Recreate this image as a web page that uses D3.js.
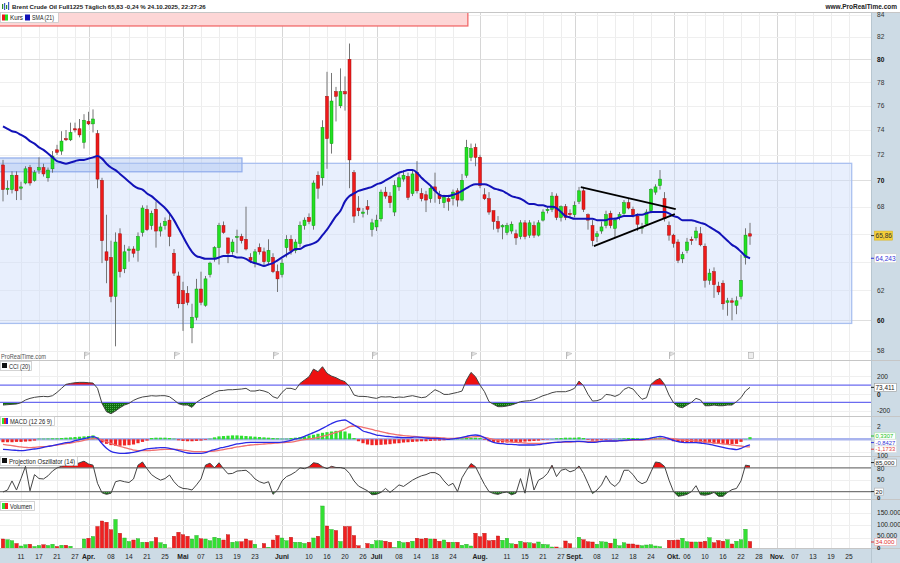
<!DOCTYPE html>
<html>
<head>
<meta charset="utf-8">
<script src="https://cdn.jsdelivr.net/npm/d3@7/dist/d3.min.js"></script>
<style>
html,body{margin:0;padding:0;background:#fff;}
svg{display:block;}
text{font-family:"Liberation Sans",Arial,Helvetica,sans-serif;}
</style>
</head>
<body>
<svg id="chart" width="900" height="563"></svg>
<script>
// ---------------- DATA ----------------
const holidays = ["2025-04-18"];
const opens = [71.2,69.3,69.3,70.4,69.4,69.8,71.0,70.0,70.8,71.0,
70.2,70.9,72.4,72.3,73.3,73.2,74.1,74.1,73.0,74.7,
74.5,73.7,70.0,64.7,64.3,61.6,66.0,63.5,64.8,64.9,
64.8,66.1,67.8,66.6,67.8,66.2,66.6,67.0,64.6,63.0,
62.0,61.8,59.5,60.2,62.1,61.0,63.1,64.3,65.0,66.6,
65.7,64.7,65.8,65.8,65.6,64.3,63.9,65.0,64.7,64.0,
64.3,63.3,63.1,65.0,65.6,64.8,65.3,66.6,67.2,66.6,
70.4,70.2,76.8,72.9,77.2,76.0,77.2,80.0,70.6,67.9,
67.5,68.0,66.3,66.5,67.1,69.1,68.8,67.6,69.5,70.1,
70.3,69.0,70.6,69.0,68.9,68.6,69.5,68.9,68.3,68.6,
68.6,69.2,68.5,70.4,71.8,72.6,71.8,68.9,68.6,67.7,
66.9,66.5,66.1,66.2,66.0,65.8,66.8,65.9,66.6,65.9,
67.0,67.7,67.8,68.8,67.2,68.0,67.5,67.4,68.4,69.2,
67.4,66.6,65.8,66.2,66.6,67.5,66.4,67.2,67.5,68.3,
67.8,67.3,66.4,66.7,67.7,69.1,69.6,68.6,66.6,65.9,
65.4,64.2,64.8,65.6,65.7,66.0,65.1,62.7,63.3,62.3,
62.5,61.2,61.3,61.0,61.6,64.3,66.0];
const highs = [71.6,70.0,70.7,70.7,69.9,71.1,71.2,70.8,71.8,71.3,
71.0,72.3,72.8,73.9,74.0,74.6,74.6,74.9,75.3,75.5,
75.7,74.0,70.2,67.4,65.5,66.1,66.4,65.2,65.1,65.1,
66.1,68.1,68.1,67.7,68.4,66.8,67.2,67.6,64.9,63.3,
62.6,62.3,61.1,62.8,63.3,63.0,64.0,65.1,66.8,66.9,
65.7,65.6,66.3,66.0,68.0,64.6,64.9,65.3,65.0,65.6,
64.6,63.8,64.2,65.9,65.9,65.6,66.9,67.2,67.5,70.0,
70.7,74.8,78.9,78.8,77.6,79.2,78.5,81.4,70.8,68.8,
67.9,68.5,67.1,67.4,69.3,69.5,69.1,70.0,70.6,70.8,
70.6,70.8,71.5,69.4,69.2,69.6,70.6,69.2,68.9,68.9,
69.3,69.4,70.5,73.2,72.9,72.9,72.0,69.4,69.1,67.7,
67.3,66.7,66.8,66.9,66.3,67.0,67.0,67.0,66.9,67.0,
67.8,68.0,69.1,69.0,68.1,68.2,67.8,68.4,69.5,69.5,
67.5,67.0,66.2,66.9,67.7,67.7,67.2,67.6,68.5,68.6,
68.0,67.5,66.8,67.8,69.4,69.7,70.8,69.1,66.9,66.0,
65.6,64.7,65.7,65.8,66.5,66.5,65.3,63.5,63.6,62.6,
62.7,61.5,61.5,61.6,64.5,66.4,66.8];
const lows = [68.4,68.9,69.0,68.5,68.5,69.7,69.6,69.9,70.5,70.3,
69.9,70.6,72.0,72.0,73.1,73.1,73.8,73.4,72.5,74.4,
73.8,69.4,63.9,62.5,61.2,58.3,62.9,63.2,64.0,64.3,
64.0,65.8,66.2,66.3,65.0,65.8,66.3,65.1,63.0,60.8,
59.3,61.0,58.5,60.0,61.0,60.9,62.9,64.0,63.8,66.0,
63.9,64.5,64.6,65.3,64.8,63.9,63.6,64.5,63.7,63.8,
63.2,61.9,62.9,64.3,64.5,64.6,65.0,66.3,66.7,66.3,
68.6,69.6,70.9,72.1,74.7,75.8,75.6,69.4,66.8,67.3,
67.2,67.4,65.8,66.2,66.9,68.6,67.9,67.3,69.2,69.9,
68.5,68.8,69.0,68.4,67.6,68.3,68.3,68.2,67.9,67.7,
68.1,68.0,68.4,70.2,71.5,71.1,69.4,68.5,67.4,66.3,
66.1,65.6,65.9,66.0,65.2,65.6,65.6,65.7,65.7,65.8,
66.9,67.5,67.6,67.0,66.9,67.0,67.2,67.2,68.2,67.6,
66.3,65.1,65.4,66.0,66.4,66.4,65.7,67.0,67.4,67.8,
67.2,66.2,66.0,66.6,67.5,68.9,69.3,66.9,65.5,65.0,
63.9,63.9,64.6,65.2,65.5,65.1,62.2,62.4,61.5,61.7,
60.7,60.3,60.0,60.4,61.4,63.8,65.2];
const closes = [69.3,69.4,70.4,69.2,69.5,70.9,69.8,70.6,71.0,70.5,
70.8,71.9,72.2,73.1,73.2,73.8,74.0,73.6,74.8,74.5,
74.9,70.1,65.5,64.1,61.6,65.4,63.3,64.7,64.9,64.6,
65.8,67.9,66.3,67.5,66.2,66.5,66.9,65.8,63.2,61.1,
61.1,61.2,60.2,62.1,61.2,62.8,63.9,65.0,66.6,66.1,
64.6,65.4,65.8,65.5,64.9,64.1,64.7,64.7,64.0,64.8,
63.3,62.8,63.9,65.6,64.8,65.4,66.6,67.0,66.9,69.8,
69.4,74.2,73.3,76.4,76.8,77.2,77.0,71.6,67.3,67.7,
67.6,67.8,66.8,67.0,69.1,68.8,68.3,69.6,70.2,70.4,
68.7,70.5,69.2,68.6,68.5,69.4,69.2,68.6,68.7,68.4,
69.1,68.5,70.0,72.6,72.5,71.8,69.6,68.6,67.6,66.9,
66.4,66.6,66.6,66.7,65.7,66.8,65.8,66.8,65.9,66.8,
67.6,67.8,68.8,67.2,68.0,67.2,67.4,68.1,69.2,67.8,
67.0,65.5,66.0,66.5,67.4,66.6,67.0,67.4,68.3,67.9,
67.4,66.7,66.5,67.6,69.3,69.5,70.1,67.1,65.9,65.3,
64.1,64.5,65.4,65.5,66.2,65.2,62.7,63.2,62.4,61.9,
61.1,61.3,61.2,61.3,62.7,65.9,65.83];
// volume in thousands of contracts
const volumes = [44,41,37,26,16,21,23,14,18,21,
18,23,14,19,19,15,5,3,44,47,
54,94,116,111,81,122,67,48,34,40,
45,31,31,34,50,29,23,8,55,71,
61,55,44,58,45,44,37,51,47,40,
61,31,33,33,44,37,23,3,26,11,
40,58,48,37,51,31,31,26,31,48,
55,176,96,82,78,34,94,94,58,17,
4,26,23,37,37,35,31,10,35,29,
31,35,47,44,47,44,44,35,40,31,
31,31,19,23,16,67,53,67,37,39,
56,39,47,25,23,35,29,29,25,32,
23,21,12,12,8,36,25,8,51,41,
33,32,23,33,32,27,44,17,29,24,
24,20,17,20,21,16,13,4,39,39,
40,47,33,32,32,32,35,49,29,38,
35,41,24,35,41,83,34];
const sma21 = [74.3,74.1,73.9,73.8,73.6,73.4,73.1,72.9,72.6,72.4,
72.1,71.8,71.5,71.4,71.3,71.4,71.5,71.6,71.6,71.7,
71.8,71.9,71.7,71.3,71.0,70.8,70.5,70.2,69.9,69.6,
69.4,69.3,69.0,68.8,68.5,68.2,67.9,67.5,67.0,66.4,
65.8,65.2,64.7,64.4,64.3,64.2,64.2,64.2,64.3,64.4,
64.4,64.4,64.3,64.3,64.2,64.0,63.9,63.8,63.7,63.8,
63.9,64.1,64.3,64.5,64.7,64.9,64.9,65.1,65.2,65.3,
65.5,65.9,66.3,66.8,67.3,67.7,68.4,68.8,69.0,69.2,
69.3,69.4,69.5,69.7,69.8,70.0,70.2,70.4,70.6,70.7,
70.8,70.8,70.6,70.2,69.9,69.6,69.2,68.9,68.8,68.8,
68.9,69.0,69.2,69.4,69.6,69.7,69.7,69.7,69.6,69.4,
69.3,69.2,69.0,68.8,68.7,68.6,68.4,68.2,68.2,68.1,
68.1,68.0,68.0,67.9,67.6,67.3,67.2,67.1,67.1,67.1,
67.1,67.1,67.0,67.0,67.0,67.1,67.1,67.2,67.3,67.3,
67.3,67.4,67.4,67.5,67.6,67.6,67.6,67.6,67.5,67.3,
67.2,67.0,67.0,67.0,66.9,66.8,66.7,66.5,66.3,66.1,
65.8,65.5,65.2,65.0,64.7,64.4,64.243];
const cci20 = [-131,-127,-123,-119,-104,-73,-54,-42,-35,-31,
-35,-23,15,62,108,119,127,131,131,127,
123,62,-112,-208,-231,-200,-162,-131,-112,-77,
-54,-38,-31,-23,-27,-23,-23,-35,-73,-115,
-131,-131,-158,-100,-65,-38,-15,15,35,38,
46,46,50,54,62,31,31,42,31,12,
-35,-54,15,62,62,46,119,158,196,285,
254,312,235,204,185,158,139,81,-15,-31,
-31,-35,-46,-54,-35,-38,-35,-46,-38,-42,
-31,-23,-35,-46,-38,4,46,23,-8,-8,
4,15,31,158,246,196,100,23,-92,-123,
-150,-150,-142,-131,-112,-92,-85,-81,-69,-46,
-23,-8,12,23,23,23,38,62,146,92,
-8,-85,-81,-62,-8,-15,-31,-8,50,73,
54,-8,-65,-46,108,154,177,108,-15,-104,
-150,-162,-131,-100,-54,-73,-139,-139,-131,-139,
-139,-131,-131,-92,-46,31,73.411];
const macdLine = [-1.54,-1.59,-1.65,-1.70,-1.75,-1.70,-1.59,-1.49,-1.39,-1.24,
-1.08,-0.98,-0.83,-0.67,-0.52,-0.42,-0.21,-0.06,0.10,0.25,
0.41,0.15,-0.67,-1.39,-1.85,-2.06,-2.16,-2.16,-2.11,-2.01,
-1.85,-1.65,-1.49,-1.39,-1.34,-1.29,-1.29,-1.39,-1.54,-1.75,
-1.95,-2.11,-2.16,-2.16,-2.16,-2.06,-1.80,-1.59,-1.39,-1.24,
-1.08,-0.88,-0.72,-0.62,-0.52,-0.47,-0.47,-0.47,-0.47,-0.47,
-0.47,-0.47,-0.42,-0.31,-0.16,0.05,0.20,0.46,0.76,1.02,
1.33,1.69,2.05,2.41,2.71,2.87,2.97,2.61,2.20,1.79,
1.28,1.07,0.87,0.66,0.56,0.46,0.41,0.35,0.30,0.25,
0.25,0.30,0.35,0.30,0.20,0.15,0.15,0.10,0.05,0.00,
0.05,0.15,0.30,0.46,0.61,0.66,0.56,0.25,-0.16,-0.47,
-0.62,-0.67,-0.77,-0.77,-0.83,-0.88,-0.88,-0.88,-0.88,-0.83,
-0.72,-0.62,-0.52,-0.47,-0.42,-0.36,-0.36,-0.36,-0.31,-0.36,
-0.47,-0.47,-0.42,-0.31,-0.26,-0.26,-0.26,-0.21,-0.16,-0.11,
-0.06,-0.06,-0.06,0.05,0.20,0.35,0.46,0.35,0.10,-0.16,
-0.36,-0.47,-0.52,-0.52,-0.52,-0.57,-0.67,-0.77,-0.93,-1.08,
-1.24,-1.39,-1.49,-1.59,-1.39,-1.08,-0.8427];
const macdSignal = [-0.77,-0.88,-0.98,-1.08,-1.18,-1.24,-1.29,-1.24,-1.18,-1.13,
-1.08,-0.98,-0.88,-0.77,-0.67,-0.57,-0.42,-0.31,-0.16,0.00,
0.10,0.10,-0.11,-0.36,-0.62,-0.88,-1.08,-1.29,-1.49,-1.65,
-1.75,-1.75,-1.75,-1.70,-1.65,-1.59,-1.54,-1.54,-1.54,-1.59,
-1.65,-1.75,-1.85,-1.90,-1.90,-1.90,-1.85,-1.80,-1.70,-1.59,
-1.44,-1.34,-1.18,-1.08,-0.98,-0.88,-0.83,-0.77,-0.72,-0.67,
-0.62,-0.57,-0.52,-0.47,-0.42,-0.31,-0.16,-0.06,0.05,0.15,
0.30,0.46,0.61,0.82,1.07,1.28,1.58,1.94,2.05,2.00,
1.84,1.69,1.53,1.33,1.17,1.02,0.87,0.76,0.66,0.56,
0.51,0.46,0.41,0.35,0.35,0.30,0.30,0.25,0.20,0.15,
0.15,0.20,0.25,0.30,0.35,0.41,0.41,0.30,0.15,0.00,
-0.11,-0.21,-0.31,-0.42,-0.47,-0.52,-0.57,-0.62,-0.62,-0.62,
-0.62,-0.57,-0.52,-0.47,-0.47,-0.42,-0.42,-0.36,-0.36,-0.36,
-0.36,-0.36,-0.36,-0.31,-0.31,-0.26,-0.26,-0.21,-0.21,-0.16,
-0.16,-0.11,-0.11,-0.06,0.00,0.05,0.10,0.15,0.15,0.10,
0.00,-0.11,-0.16,-0.21,-0.26,-0.31,-0.42,-0.47,-0.57,-0.62,
-0.72,-0.77,-0.88,-0.98,-1.03,-1.13,-1.1733];
const macdHist = [-0.45,-0.45,-0.45,-0.4,-0.4,-0.35,-0.3,-0.2,0.1,0.1,
0.12,0.15,0.15,0.2,0.25,0.3,0.35,0.4,0.45,0.5,
0.6,0.3,-0.5,-0.7,-0.9,-1.0,-1.0,-0.95,-0.9,-0.8,
-0.6,-0.4,-0.2,0.2,0.25,0.25,0.25,0.2,0.1,-0.15,
-0.25,-0.3,-0.3,-0.25,-0.2,-0.1,0.1,0.3,0.45,0.5,
0.55,0.6,0.6,0.55,0.5,0.45,0.4,0.35,0.3,0.25,
0.2,0.15,0.1,0.1,0.2,0.25,0.35,0.45,0.6,0.7,
0.85,1.0,1.1,1.2,1.3,1.3,1.2,0.9,0.2,-0.3,
-0.6,-0.8,-0.9,-0.9,-0.85,-0.8,-0.75,-0.65,-0.6,-0.5,
-0.45,-0.4,-0.35,-0.3,-0.3,-0.25,-0.2,-0.2,-0.15,-0.1,
0.05,0.1,0.15,0.2,0.25,0.25,0.2,-0.1,-0.3,-0.4,
-0.5,-0.5,-0.5,-0.45,-0.45,-0.4,-0.35,-0.3,-0.25,-0.2,
-0.1,-0.05,0.05,0.15,0.2,0.25,0.25,0.25,0.3,0.2,
-0.1,-0.2,-0.2,-0.15,-0.1,-0.05,0.05,0.1,0.15,0.2,
0.2,0.15,0.1,0.15,0.2,0.25,0.3,0.2,-0.1,-0.3,
-0.4,-0.45,-0.45,-0.45,-0.45,-0.5,-0.55,-0.6,-0.65,-0.7,
-0.7,-0.75,-0.75,-0.7,-0.4,0.05,0.3307];
const projOsc = [19,24,47,24,53,84,22,63,53,52,
60,72,80,84,87,87,88,93,97,90,
87,41,17,13,16,45,48,45,43,52,
87,95,78,63,55,49,53,62,45,33,
28,27,24,37,52,87,92,80,93,78,
65,66,72,73,74,65,52,45,41,45,
13,24,47,58,63,70,80,78,83,93,
91,83,78,84,81,81,78,66,47,34,
28,22,12,13,18,28,18,27,37,33,
41,49,55,60,63,68,68,62,47,35,
41,20,55,74,91,83,60,38,20,15,
13,17,19,12,16,53,16,78,24,49,
55,66,87,58,74,77,70,74,85,66,
41,15,24,37,60,41,33,45,74,74,
63,47,40,45,70,95,93,84,49,20,
8,10,13,20,35,12,11,13,18,8,
8,18,25,28,47,87,85];
const tickDates = ["2025-03-11","2025-03-17","2025-03-21","2025-03-27","2025-04-01","2025-04-08","2025-04-14","2025-04-21","2025-04-25",
"2025-05-01","2025-05-07","2025-05-13","2025-05-19","2025-05-23","2025-06-02","2025-06-10","2025-06-16","2025-06-20","2025-06-26",
"2025-07-01","2025-07-08","2025-07-14","2025-07-18","2025-07-24","2025-08-01","2025-08-11","2025-08-15","2025-08-21","2025-08-27",
"2025-09-01","2025-09-08","2025-09-12","2025-09-18","2025-09-24","2025-10-01","2025-10-06","2025-10-10","2025-10-16","2025-10-22","2025-10-28",
"2025-11-03","2025-11-07","2025-11-13","2025-11-19","2025-11-25"];
const tickTexts = ["11","17","21","27","Apr.","08","14","21","25",
"Mai","07","13","19","23","Juni","10","16","20","26",
"Juli","08","14","18","24","Aug.","11","15","21","27",
"Sept.","08","12","18","24","Okt.","06","10","16","22","28",
"Nov.","07","13","19","25"];
const monthTicks = ["Apr.","Mai","Juni","Juli","Aug.","Sept.","Okt.","Nov."];
const priceTicks = [58,60,62,64,66,68,70,72,74,76,78,80,82,84];
const priceMajor = [60,70,80];
const cciTicks = [200,0,-200];
const macdTicks = [2];
const projTicks = [100,80,50,0];
const volTicks = [150000,100000,50000,0];
// drawn objects (bar index, price)
const zoneBig = {i0:-2, i1:188.6, top:71.33, bottom:59.79};
const zoneSmall = {i0:-2, i1:53.1, top:71.75, bottom:70.67};
const zoneRed = {i0:-2, i1:103.3, top:90, bottom:82.99};
const triangleLines = [{i0:128.4,p0:69.49,i1:149.5,p1:67.82},{i0:131.3,p0:65.11,i1:149.3,p1:67.45}];
const flagBars = [18,38,60,82,104,125,148];

// ---------------- CHART ----------------
const fmtDay = d3.utcFormat("%Y-%m-%d");
const tradingDays = d3.utcDay.range(new Date(Date.UTC(2025,2,5)), new Date(Date.UTC(2025,11,2)))
  .filter(d => d.getUTCDay() !== 0 && d.getUTCDay() !== 6 && !holidays.includes(fmtDay(d)))
  .map(fmtDay);
const idx = s => tradingDays.indexOf(s);

const svg = d3.select("#chart");
const AX = 871;
const P = {price:[12,360], cci:[360,416], macd:[416,456], proj:[456,499], vol:[499,548]};
const x = d3.scaleLinear().domain([0,166]).range([3,750]);
const yP = d3.scaleLog().domain([58,84]).range([351,15]);
const yC = d3.scaleLinear().domain([-200,200]).range([411,376.4]);
const yM = d3.scaleLinear().domain([-2,2]).range([452.3,426.3]);
const yO = d3.scaleLinear().domain([0,100]).range([499.5,460]);
const yV = d3.scaleLinear().domain([0,150000]).range([550,512.5]);
const N = closes.length;
const bars = d3.range(N);
const GREEN = "#22e022", RED = "#ee1a1a";
const up = i => closes[i] >= opens[i];

const defs = svg.append("defs");
function clipRect(id, y0, y1){
  defs.append("clipPath").attr("id", id).append("rect")
    .attr("x",0).attr("y",y0).attr("width",AX).attr("height",y1-y0);
}
clipRect("cp-price", ...P.price); clipRect("cp-cci", ...P.cci); clipRect("cp-macd", ...P.macd);
clipRect("cp-proj", ...P.proj); clipRect("cp-vol", ...P.vol);
clipRect("cp-cci-hi", P.cci[0], yC(100)); clipRect("cp-cci-lo", yC(-100), P.cci[1]);
clipRect("cp-proj-hi", P.proj[0], yO(80)); clipRect("cp-proj-lo", yO(20), P.proj[1]);
const dots = defs.append("pattern").attr("id","gdots").attr("width",2).attr("height",2).attr("patternUnits","userSpaceOnUse");
dots.append("rect").attr("width",2).attr("height",2).attr("fill","#0f6e0f");
dots.append("rect").attr("width",1).attr("height",1).attr("fill","#4fae4f");

// backgrounds
svg.append("rect").attr("width",900).attr("height",563).attr("fill","#fff");
svg.append("rect").attr("x",AX).attr("y",12).attr("width",900-AX).attr("height",551).attr("fill","#cddbe5");
svg.append("rect").attr("x",0).attr("y",548).attr("width",AX).attr("height",15).attr("fill","#cddbe5");

// vertical grid
const gGrid = svg.append("g");
tickDates.forEach((d,k) => {
  const xx = Math.round(x(idx(d))) + 0.5;
  const major = monthTicks.includes(tickTexts[k]);
  gGrid.append("line").attr("x1",xx).attr("x2",xx).attr("y1",12).attr("y2",548)
    .attr("stroke", major ? "#d6d6d6" : "#ededed").attr("stroke-width",1);
});
function hgrid(yv, color){
  gGrid.append("line").attr("x1",0).attr("x2",AX).attr("y1",Math.round(yv)+0.5).attr("y2",Math.round(yv)+0.5)
    .attr("stroke",color).attr("stroke-width",1);
}
priceTicks.forEach(p => hgrid(yP(p), priceMajor.includes(p) ? "#dedede" : "#efefef"));
cciTicks.forEach(v => hgrid(yC(v), "#efefef"));
[2,-2].forEach(v => hgrid(yM(v), "#efefef"));
[50].forEach(v => hgrid(yO(v), "#efefef"));
[50000,100000,150000].forEach(v => hgrid(yV(v), "#efefef"));

// ---------- price panel ----------
const gPrice = svg.append("g").attr("clip-path","url(#cp-price)");
function zone(z, fill, stroke){
  gPrice.append("rect").attr("x",x(z.i0)).attr("y",yP(z.top))
    .attr("width",x(z.i1)-x(z.i0)).attr("height",yP(z.bottom)-yP(z.top))
    .attr("fill",fill).attr("stroke",stroke).attr("stroke-width",1.3);
}
zone(zoneBig, "rgba(205,220,250,0.45)", "#a9c0f0");
zone(zoneSmall, "rgba(170,195,240,0.45)", "#94afec");
zone(zoneRed, "#fdd6d6", "#f06a6a");

const gC = gPrice.append("g");
gC.selectAll("line.w").data(bars).join("line").attr("class","w")
  .attr("x1", i => x(i)).attr("x2", i => x(i))
  .attr("y1", i => yP(highs[i])).attr("y2", i => yP(lows[i]))
  .attr("stroke","#666").attr("stroke-width",0.9);
gC.selectAll("rect.b").data(bars).join("rect").attr("class","b")
  .attr("x", i => x(i)-1.5).attr("width",3)
  .attr("y", i => yP(Math.max(opens[i],closes[i])))
  .attr("height", i => Math.max(1, yP(Math.min(opens[i],closes[i])) - yP(Math.max(opens[i],closes[i]))))
  .attr("fill", i => up(i) ? GREEN : RED)
  .attr("stroke", i => up(i) ? "#139613" : "#a01010").attr("stroke-width",0.5);

gPrice.append("path").datum(sma21)
  .attr("d", d3.line().x((d,i)=>x(i)).y(d=>yP(d)).curve(d3.curveMonotoneX))
  .attr("fill","none").attr("stroke","#1212b8").attr("stroke-width",2);

triangleLines.forEach(t => {
  gPrice.append("line").attr("x1",x(t.i0)).attr("y1",yP(t.p0)).attr("x2",x(t.i1)).attr("y2",yP(t.p1))
    .attr("stroke","#000").attr("stroke-width",1.8);
});

// flags
flagBars.forEach(b => {
  const fx = Math.round(x(b));
  const g = svg.append("g").attr("transform",`translate(${fx},352)`);
  g.append("line").attr("x1",0.5).attr("x2",0.5).attr("y1",0).attr("y2",7).attr("stroke","#bbb");
  g.append("path").attr("d","M1,0 L6,1.5 L1,4 Z").attr("fill","#e4e4e4").attr("stroke","#bbb").attr("stroke-width",0.6);
});
{
  const fx = Math.round(x(166)) + 0.5;
  svg.append("rect").attr("x",fx-2).attr("y",352.5).attr("width",5).attr("height",6).attr("fill","#eee").attr("stroke","#aaa").attr("stroke-width",0.6);
}

// ---------- CCI ----------
const gCci = svg.append("g").attr("clip-path","url(#cp-cci)");
const cciArea = thr => d3.area().x((d,i)=>x(i)).y0(yC(thr)).y1(d=>yC(d));
gCci.append("path").datum(cci20).attr("d",cciArea(100)).attr("fill","#ee1111").attr("clip-path","url(#cp-cci-hi)");
gCci.append("path").datum(cci20).attr("d",cciArea(-100)).attr("fill","url(#gdots)").attr("clip-path","url(#cp-cci-lo)");
[100,-100].forEach(v => gCci.append("line").attr("x1",0).attr("x2",AX).attr("y1",yC(v)).attr("y2",yC(v)).attr("stroke","#6b6bf0").attr("stroke-width",1.2));
gCci.append("path").datum(cci20).attr("d", d3.line().x((d,i)=>x(i)).y(d=>yC(d)))
  .attr("fill","none").attr("stroke","#444").attr("stroke-width",1);

// ---------- MACD ----------
const gMacd = svg.append("g").attr("clip-path","url(#cp-macd)");
gMacd.append("line").attr("x1",0).attr("x2",AX).attr("y1",yM(0)).attr("y2",yM(0)).attr("stroke","#a9b4ee").attr("stroke-width",2.5);
gMacd.selectAll("rect.h").data(bars).join("rect").attr("class","h")
  .attr("x", i => x(i)-1.6).attr("width",3.2)
  .attr("y", i => Math.min(yM(0), yM(macdHist[i])))
  .attr("height", i => Math.abs(yM(macdHist[i]) - yM(0)))
  .attr("fill", i => macdHist[i] >= 0 ? "#2ee02e" : "#f02626");
gMacd.append("path").datum(macdSignal).attr("d", d3.line().x((d,i)=>x(i)).y(d=>yM(d)).curve(d3.curveMonotoneX))
  .attr("fill","none").attr("stroke","#f07070").attr("stroke-width",1.3);
gMacd.append("path").datum(macdLine).attr("d", d3.line().x((d,i)=>x(i)).y(d=>yM(d)).curve(d3.curveMonotoneX))
  .attr("fill","none").attr("stroke","#2a2ae6").attr("stroke-width",1.3);

// ---------- Projection oscillator ----------
const gProj = svg.append("g").attr("clip-path","url(#cp-proj)");
const projArea = thr => d3.area().x((d,i)=>x(i)).y0(yO(thr)).y1(d=>yO(d));
gProj.append("path").datum(projOsc).attr("d",projArea(80)).attr("fill","#ee1111").attr("clip-path","url(#cp-proj-hi)");
gProj.append("path").datum(projOsc).attr("d",projArea(20)).attr("fill","url(#gdots)").attr("clip-path","url(#cp-proj-lo)");
[80,20].forEach(v => gProj.append("line").attr("x1",0).attr("x2",AX).attr("y1",yO(v)).attr("y2",yO(v)).attr("stroke","#777").attr("stroke-width",1.1));
gProj.append("path").datum(projOsc).attr("d", d3.line().x((d,i)=>x(i)).y(d=>yO(d)))
  .attr("fill","none").attr("stroke","#444").attr("stroke-width",1);

// ---------- Volume ----------
const gVol = svg.append("g").attr("clip-path","url(#cp-vol)");
gVol.selectAll("rect.v").data(bars).join("rect").attr("class","v")
  .attr("x", i => x(i)-1.7).attr("width",3.4)
  .attr("y", i => yV(volumes[i]*1000))
  .attr("height", i => yV(0) - yV(volumes[i]*1000))
  .attr("fill", i => up(i) ? "#33e033" : "#f02020")
  .attr("stroke", i => up(i) ? "#22a022" : "#b01010").attr("stroke-width",0.4);

// panel separators
[12,360,416,456,499,548].forEach(yv => {
  svg.append("line").attr("x1",0).attr("x2",900).attr("y1",yv+0.5).attr("y2",yv+0.5)
    .attr("stroke", "#c6c6c6").attr("stroke-width",1);
});
svg.append("line").attr("x1",AX+0.5).attr("x2",AX+0.5).attr("y1",12).attr("y2",563).attr("stroke","#b7c6d0");

// ---------- legends ----------
function legendBox(x0, y0, w, h){
  svg.append("rect").attr("x",x0+0.5).attr("y",y0+0.5).attr("width",w).attr("height",h)
    .attr("fill","#fff").attr("stroke","#c9c9c9").attr("stroke-width",0.8);
}
function txt(xv, yv, s, o={}){
  const t = svg.append("text").attr("x",xv).attr("y",yv).text(s)
    .attr("font-size", o.size || 6.6).attr("fill", o.fill || "#222")
    .attr("font-weight", o.bold ? "bold" : "normal")
    .attr("text-anchor", o.anchor || "start");
  if (o.len) t.attr("textLength", o.len).attr("lengthAdjust","spacingAndGlyphs");
  return t;
}
legendBox(0, 12, 58, 10);
svg.append("rect").attr("x",2).attr("y",14.5).attr("width",3).attr("height",6).attr("fill",RED);
svg.append("rect").attr("x",5).attr("y",14.5).attr("width",3).attr("height",6).attr("fill",GREEN);
txt(10, 20, "Kurs", {len:13});
svg.append("rect").attr("x",25).attr("y",14.5).attr("width",5).attr("height",6).attr("fill","#1212b8");
txt(32, 20, "SMA (21)", {len:22});
txt(1, 358.5, "ProRealTime.com", {size:6.6, fill:"#555", len:45});

legendBox(0, 361, 31, 9);
svg.append("rect").attr("x",2).attr("y",363).attr("width",5).attr("height",5).attr("fill","#111");
txt(9, 368.5, "CCI (20)", {len:21});

legendBox(0, 416, 54, 9);
svg.append("rect").attr("x",2).attr("y",418).attr("width",2).attr("height",6).attr("fill","#2ee02e");
svg.append("rect").attr("x",4).attr("y",418).attr("width",2).attr("height",6).attr("fill","#f02626");
svg.append("rect").attr("x",6).attr("y",418).attr("width",2).attr("height",6).attr("fill","#2a2ae6");
txt(10, 423.5, "MACD (12 26 9)", {len:42});

legendBox(0, 456, 77, 9);
svg.append("rect").attr("x",2).attr("y",458).attr("width",5).attr("height",5).attr("fill","#111");
txt(9, 463.5, "Projection Oszillator (14)", {len:66});

legendBox(0, 501, 34, 9);
svg.append("rect").attr("x",2).attr("y",503).attr("width",3).attr("height",6).attr("fill","#2ee02e");
svg.append("rect").attr("x",5).attr("y",503).attr("width",3).attr("height",6).attr("fill","#f02020");
txt(10, 508.5, "Volumen", {len:22});

// ---------- title ----------
const icon = svg.append("g");
[[2,3,3,"#2a8a2a"],[4,2,5,"#3b5cc8"],[6,4,2,"#2a8a2a"],[8,1,6,"#3b5cc8"]].forEach(([ix,iy,ih,c]) =>
  icon.append("rect").attr("x",ix).attr("y",iy+1).attr("width",1.2).attr("height",ih+2).attr("fill",c));
txt(12, 9, "Brent Crude Oil Full1225 Täglich 65,83 -0,24 % 24.10.2025, 22:27:26", {bold:true, size:6.1});
txt(897, 9, "www.ProRealTime.com", {bold:true, size:6.5, anchor:"end"});

// ---------- right axis labels ----------
const LX = 877;
function axisText(yBase, s, o={}){ return txt(LX, yBase, s, o); }
priceTicks.forEach(p => {
  if (p === 66 || p === 64) return;   // hidden behind value tags in the reference
  axisText(yP(p)+2.3, String(p), {bold: priceMajor.includes(p), fill: priceMajor.includes(p) ? "#111" : "#333"});
});
function valueTag(yc, s, bg, fg, border, w, h=8, size=6.4){
  svg.append("line").attr("x1",AX).attr("x2",AX+3).attr("y1",yc).attr("y2",yc).attr("stroke",fg).attr("stroke-width",1);
  svg.append("rect").attr("x",AX+3.5).attr("y",yc-h/2).attr("width",w).attr("height",h)
    .attr("fill",bg).attr("stroke",border).attr("stroke-width",0.6);
  txt(AX+4.5, yc+size*0.34, s, {fill:fg, size:size});
}
valueTag(yP(closes[N-1])-0.5, "65,86", "#f4d03a", "#333", "#d8b420", 18, 9, 6.6);
valueTag(yP(sma21[N-1]), "64,243", "#fff", "#3434d8", "#ccc", 22, 9, 6.6);

axisText(yC(200)+2.3, "200");
axisText(yC(0)+3.2, "0", {bold:true});
axisText(yC(-200)+2.3, "-200");
valueTag(yC(cci20[N-1]), "73,411", "#fff", "#222", "#999", 22, 8);

axisText(yM(2)+2.3, "2");
valueTag(436, "0,3307", "#fff", "#22c422", "#aee8ae", 21, 6.4, 5.8);
valueTag(442.6, "-0,8427", "#fff", "#3434d8", "#ddd", 22, 6.4, 5.8);
valueTag(449.2, "-1,1733", "#fff", "#e03c3c", "#ddd", 22, 6.4, 5.8);

axisText(458.3, "100");
valueTag(462.6, "85,000", "#fff", "#222", "#999", 22, 7, 6.2);
axisText(471.2, "80");
axisText(yO(50)+2.3, "50");
valueTag(yO(20), "20", "#fff", "#222", "#aaa", 9, 7, 6.2);
axisText(499.6, "0", {bold:true, size:6});

axisText(yV(150000)+2.3, "150.000");
axisText(yV(100000)+2.3, "100.000");
axisText(538.2, "50.000");
valueTag(542, "34.000", "#fff", "#e03030", "#eaa", 22, 7, 6.2);
axisText(550.3, "0", {bold:true, size:6});

// ---------- x axis labels ----------
tickDates.forEach((d,k) => {
  const major = monthTicks.includes(tickTexts[k]);
  txt(x(idx(d)), 558.5, tickTexts[k], {anchor:"middle", bold:major, size: major ? 6.8 : 6.6, fill:"#222"});
});
</script>
</body>
</html>
